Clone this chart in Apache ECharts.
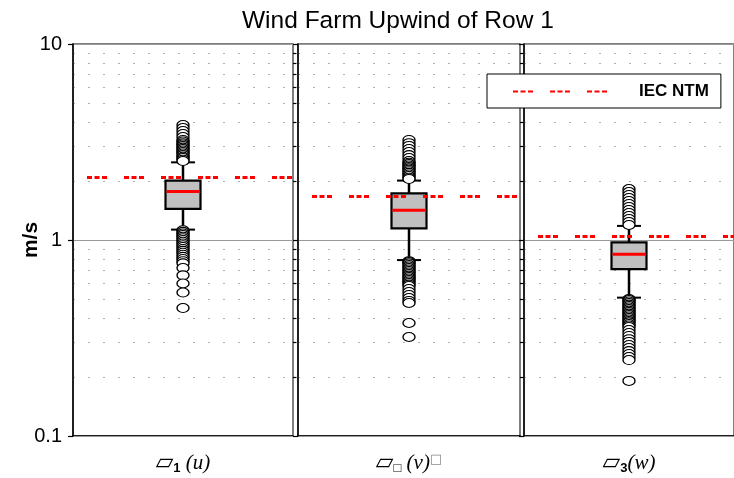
<!DOCTYPE html>
<html><head><meta charset="utf-8">
<script src="https://cdn.jsdelivr.net/npm/echarts@6/dist/echarts.min.js"></script>
<style>html,body{margin:0;padding:0;background:#fff}#c{width:734px;height:478px}</style>
</head><body><div id="c"></div>
<script>
// ---- data ----
const categories = ['u', 'v', 'w'];
const labelSymbol = ['\u25B1', '\u25B1', '\u25B1'];
const labelSub = ['1', '\u25A1', '3'];
const labelVar = [' (u)', ' (v)', '(w)'];
const labelTail = ['', '\u25A1', ''];
const boxLow = [1.13, 0.79, 0.508];
const boxQ1 = [1.44, 1.147, 0.711];
const boxMedian = [1.77, 1.42, 0.845];
const boxQ3 = [2.01, 1.73, 0.973];
const boxHigh = [2.49, 2.01, 1.18];
const iecNtm = [2.10, 1.68, 1.04];
const outliersU = [3.86, 3.73, 3.60, 3.47, 3.35, 3.24, 3.18, 3.12, 3.07, 3.02, 2.96, 2.91, 2.86, 2.81, 2.76, 2.71, 2.66, 2.62, 2.57, 2.53,
  1.12, 1.10, 1.08, 1.06, 1.04, 1.02, 1.00, 0.98, 0.96, 0.94, 0.92, 0.90, 0.88, 0.86, 0.84, 0.82, 0.80, 0.78, 0.76, 0.72, 0.66, 0.60, 0.54, 0.45];
const outliersV = [3.24, 3.12, 3.02, 2.91, 2.81, 2.71, 2.62, 2.53, 2.48, 2.44, 2.40, 2.36, 2.32, 2.28, 2.24, 2.20, 2.16, 2.12, 2.08, 2.05,
  0.78, 0.772, 0.76, 0.746, 0.733, 0.72, 0.707, 0.695, 0.682, 0.67, 0.658, 0.647, 0.636, 0.625, 0.614, 0.603, 0.592, 0.582, 0.562, 0.543, 0.524, 0.506, 0.489, 0.477, 0.377, 0.320];
const outliersW = [1.82, 1.757, 1.697, 1.638, 1.58, 1.526, 1.473, 1.422, 1.373, 1.326, 1.28, 1.235, 1.193,
  0.50, 0.494, 0.485, 0.477, 0.468, 0.46, 0.452, 0.444, 0.436, 0.429, 0.421, 0.414, 0.407, 0.40, 0.393, 0.386, 0.38, 0.373, 0.366, 0.36,
  0.347, 0.335, 0.324, 0.312, 0.302, 0.291, 0.281, 0.271, 0.262, 0.253, 0.244, 0.191];
const majorTicks = [0.1, 1, 10];
const minorTicks = [0.2, 0.3, 0.4, 0.5, 0.6, 0.7, 0.8, 0.9, 2, 3, 4, 5, 6, 7, 8, 9];
const titleText = 'Wind Farm Upwind of Row 1';
const yName = 'm/s';
const legendName = 'IEC NTM';
const outliers = [outliersU, outliersV, outliersW];

// ---- layout ----
const grids = [
  { left: 73, top: 44, width: 220, height: 392 },
  { left: 298, top: 44, width: 222, height: 392 },
  { left: 524, top: 44, width: 218, height: 392 }
];
const dash = [5, 2.5, 5, 2.5, 5, 17];

const option = {
  animation: false,
  backgroundColor: '#fff',
  title: { text: titleText, left: 237, top: 4,
    textStyle: { fontFamily: 'Liberation Sans', fontSize: 24.5, fontWeight: 'normal', color: '#000' } },
  legend: {
    data: [legendName], left: 487, top: 74, padding: [9, 12, 8, 25],
    itemWidth: 94, itemHeight: 14, backgroundColor: '#fff', borderColor: '#000', borderWidth: 1,
    lineStyle: { dashOffset: 0 },
    itemStyle: { color: 'rgba(0,0,0,0)', borderWidth: 0, opacity: 0 },
    textStyle: { fontFamily: 'Liberation Sans', fontWeight: 'bold', fontSize: 17, color: '#000', padding: [0, 0, 0, 27] },
    z: 20
  },
  grid: grids.map(g => Object.assign({ show: true, borderColor: '#555', borderWidth: 1.5, backgroundColor: 'transparent' }, g)),
  xAxis: grids.map((g, i) => ({
    type: 'category', gridIndex: i, data: [categories[i]],
    axisLine: { lineStyle: { color: '#000', width: 1.5 } },
    axisTick: { show: false },
    axisLabel: {
      margin: 16,
      formatter: () => '{s|' + labelSymbol[i] + '}{b|' + labelSub[i] + '}{v|' + labelVar[i] + '}{t|' + labelTail[i] + '}',
      rich: {
        s: { fontFamily: 'DejaVu Sans', fontSize: 23, color: '#000' },
        b: { fontFamily: 'Liberation Sans', fontWeight: 'bold', fontSize: 13, color: '#000', verticalAlign: 'bottom', padding: [8, 0, 0, 0] },
        v: { fontFamily: 'Liberation Serif', fontStyle: 'italic', fontSize: 21, color: '#000' },
        t: { fontFamily: 'DejaVu Sans', fontSize: 13, color: '#888', padding: [0, 0, 8, 0] }
      }
    },
    splitLine: { show: false }
  })),
  yAxis: [],
  series: []
};

grids.forEach((g, i) => {
  // major axis
  option.yAxis.push({
    type: 'log', gridIndex: i, min: 0.1, max: 10, logBase: 10,
    name: i === 0 ? yName : '', nameLocation: 'middle', nameGap: 31, nameMoveOverlap: false,
    nameTextStyle: { fontFamily: 'Liberation Sans', fontWeight: 'bold', fontSize: 21, color: '#000' },
    axisLine: { show: true, lineStyle: { color: '#000', width: 1.5 } },
    axisTick: { show: true, length: 5, customValues: majorTicks, lineStyle: { color: '#000', width: 1.2 } },
    axisLabel: { show: i === 0, customValues: majorTicks, margin: 11,
      fontFamily: 'Liberation Sans', fontSize: 20, color: '#000',
      formatter: v => String(+Number(v).toPrecision(3)) },
    splitLine: { show: true, lineStyle: { color: '#999', width: 1 } },
    z: 3
  });
  // minor axis (ticks + dotted grid)
  option.yAxis.push({
    type: 'log', gridIndex: i, min: 0.1, max: 10, logBase: 10,
    axisLine: { show: false },
    axisTick: { show: true, length: 3.5, customValues: minorTicks, lineStyle: { color: '#000', width: 1.2 } },
    axisLabel: { show: false },
    splitLine: { show: true, lineStyle: { color: '#b0b0b0', width: 1, type: [2, 13] } },
    z: 2
  });
});

grids.forEach((g, i) => {
  const yMajor = i * 2;
  option.series.push({
    type: 'custom', xAxisIndex: i, yAxisIndex: yMajor, z: 3,
    encode: { x: 0, y: [1, 2, 3, 4, 5] },
    data: [[0, boxLow[i], boxQ1[i], boxMedian[i], boxQ3[i], boxHigh[i]]],
    renderItem: (params, api) => {
      const x = api.value(0);
      const low = api.coord([x, api.value(1)]);
      const q1 = api.coord([x, api.value(2)]);
      const med = api.coord([x, api.value(3)]);
      const q3 = api.coord([x, api.value(4)]);
      const high = api.coord([x, api.value(5)]);
      const cx = low[0], bw = 35, cw = 24;
      const ls = { stroke: '#000', lineWidth: 2.5 };
      return { type: 'group', children: [
        { type: 'line', shape: { x1: cx, y1: high[1], x2: cx, y2: q3[1] }, style: ls },
        { type: 'line', shape: { x1: cx, y1: q1[1], x2: cx, y2: low[1] }, style: ls },
        { type: 'line', shape: { x1: cx - cw / 2, y1: high[1], x2: cx + cw / 2, y2: high[1] }, style: { stroke: '#000', lineWidth: 2 } },
        { type: 'line', shape: { x1: cx - cw / 2, y1: low[1], x2: cx + cw / 2, y2: low[1] }, style: { stroke: '#000', lineWidth: 2 } },
        { type: 'rect', shape: { x: cx - bw / 2, y: q3[1], width: bw, height: q1[1] - q3[1] }, style: { fill: '#c0c0c0', stroke: '#000', lineWidth: 2.2 } },
        { type: 'line', shape: { x1: cx - bw / 2 + 1, y1: med[1], x2: cx + bw / 2 - 1, y2: med[1] }, style: { stroke: '#ff0000', lineWidth: 3 } }
      ] };
    }
  });
  option.series.push({
    type: 'scatter', xAxisIndex: i, yAxisIndex: yMajor, z: 4,
    symbol: 'circle', symbolSize: [12, 9],
    itemStyle: { color: '#fff', borderColor: '#000', borderWidth: 1.2, opacity: 1 },
    data: outliers[i].map(v => [0, v])
  });
  option.series.push({
    type: 'line', name: legendName, xAxisIndex: i, yAxisIndex: yMajor, z: 5,
    symbol: 'none', showSymbol: false, data: [],
    lineStyle: { color: '#ff0000', width: 3, type: dash },
    itemStyle: { color: '#ff0000' },
    markLine: {
      symbol: 'none', silent: true, label: { show: false },
      lineStyle: { color: '#ff0000', width: 3, type: dash, dashOffset: 23 },
      data: [{ yAxis: iecNtm[i] }]
    }
  });
});

const chart = echarts.init(document.getElementById('c'), null, { renderer: 'canvas' });
chart.setOption(option);
</script>
</body></html>
